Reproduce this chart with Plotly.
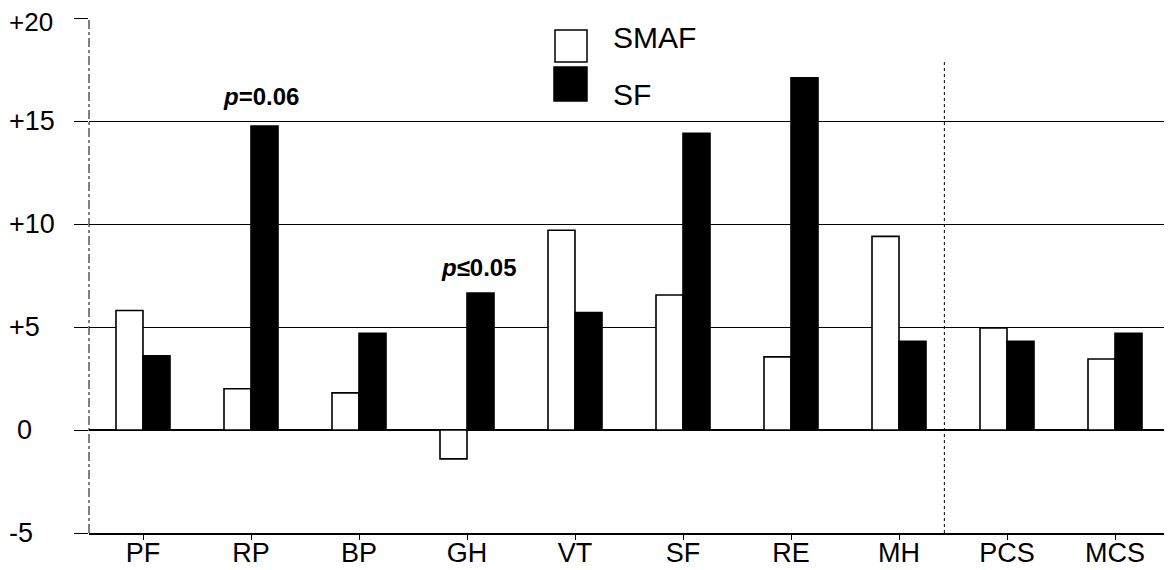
import plotly.graph_objects as go

categories = ["PF", "RP", "BP", "GH", "VT", "SF", "RE", "MH", "PCS", "MCS"]
smaf = [5.8, 2.0, 1.8, -1.4, 9.7, 6.55, 3.55, 9.4, 4.95, 3.45]
sf = [3.6, 14.75, 4.7, 6.65, 5.7, 14.4, 17.1, 4.3, 4.3, 4.7]
y_ticks = [-5, 0, 5, 10, 15, 20]
y_tick_labels = ["-5", "0", "+5", "+10", "+15", "+20"]
notes = [("RP", 16.2, "<b><i>p</i>=0.06</b>", 10), ("GH", 7.9, "<b><i>p</i>≤0.05</b>", 12)]
legend_names = ["SMAF", "SF"]
divider_x = 7.42

FONT = "Liberation Sans, Arial, sans-serif"
OFF = 8  # page body margin
W, H = 1172 - OFF, 570 - OFF
ML, MR, MT = 89 - OFF, 3, 18 - OFF
MB = H - (533 - OFF)
PW, PH = W - ML - MR, H - MT - MB

fig = go.Figure()
fig.add_trace(go.Bar(x=categories, y=smaf, name=legend_names[0],
                     marker=dict(color="white", line=dict(color="black", width=1.6))))
fig.add_trace(go.Bar(x=categories, y=sf, name=legend_names[1],
                     marker=dict(color="black", line=dict(color="black", width=1.6))))

annotations = []
for v, t in zip(y_ticks, y_tick_labels):
    top = v == max(y_ticks)
    annotations.append(dict(xref="paper", yref="y", x=0, y=v, xshift=-ML + (8 if t == "0" else 0),
                            yshift=(-4 if top else 0), borderpad=0,
                            text=t, showarrow=False, xanchor="left", yanchor="middle",
                            font=dict(family=FONT, size=(26 if top else 27), color="black")))
for cat, yv, txt, dx in notes:
    annotations.append(dict(x=cat, y=yv, text=txt, showarrow=False, xshift=dx,
                            font=dict(family=FONT, size=24, color="black")))

def px_x(p):
    return (p - OFF - ML) / PW

def px_y(p):
    return 1 - (p - OFF - MT) / PH

shapes = [
    dict(type="line", xref="paper", yref="paper", x0=0, x1=0, y0=0, y1=1,
         line=dict(color="black", width=1, dash="dashdot")),
    dict(type="line", xref="x", yref="paper", x0=divider_x, x1=divider_x, y0=0, y1=px_y(62),
         line=dict(color="black", width=1, dash="dot")),
    dict(type="rect", xref="paper", yref="paper", x0=px_x(555), x1=px_x(587), y0=px_y(62), y1=px_y(30),
         fillcolor="white", line=dict(color="black", width=1.5)),
    dict(type="rect", xref="paper", yref="paper", x0=px_x(554), x1=px_x(587), y0=px_y(101), y1=px_y(67),
         fillcolor="black", line=dict(color="black", width=1.5)),
]
annotations.append(dict(xref="paper", yref="paper", x=px_x(611), y=px_y(37), text=legend_names[0],
                        showarrow=False, xanchor="left", yanchor="middle",
                        font=dict(family=FONT, size=30, color="black")))
annotations.append(dict(xref="paper", yref="paper", x=px_x(611), y=px_y(94), text=legend_names[1],
                        showarrow=False, xanchor="left", yanchor="middle",
                        font=dict(family=FONT, size=30, color="black")))

fig.update_layout(
    width=W, height=H,
    margin=dict(l=ML, r=MR, t=MT, b=MB, autoexpand=False),
    paper_bgcolor="white", plot_bgcolor="white",
    barmode="group", bargap=0.5, bargroupgap=0,
    showlegend=False,
    font=dict(family=FONT, color="black"),
    annotations=annotations, shapes=shapes,
    xaxis=dict(range=[-0.5, 9.5], showline=True, linecolor="black", linewidth=1.5,
               ticks="outside", ticklen=5, tickcolor="black", showgrid=False,
               tickfont=dict(family=FONT, size=27, color="black"), automargin=False,
               ticklabelstandoff=-10),
    yaxis=dict(range=[-5, 20], tickvals=y_ticks, showticklabels=False,
               ticks="outside", ticklen=14, tickcolor="black", tickwidth=1,
               showgrid=True, gridcolor="black", gridwidth=1.3,
               zeroline=True, zerolinecolor="black", zerolinewidth=1.5,
               showline=False, automargin=False),
)
fig.write_html("out.html")
